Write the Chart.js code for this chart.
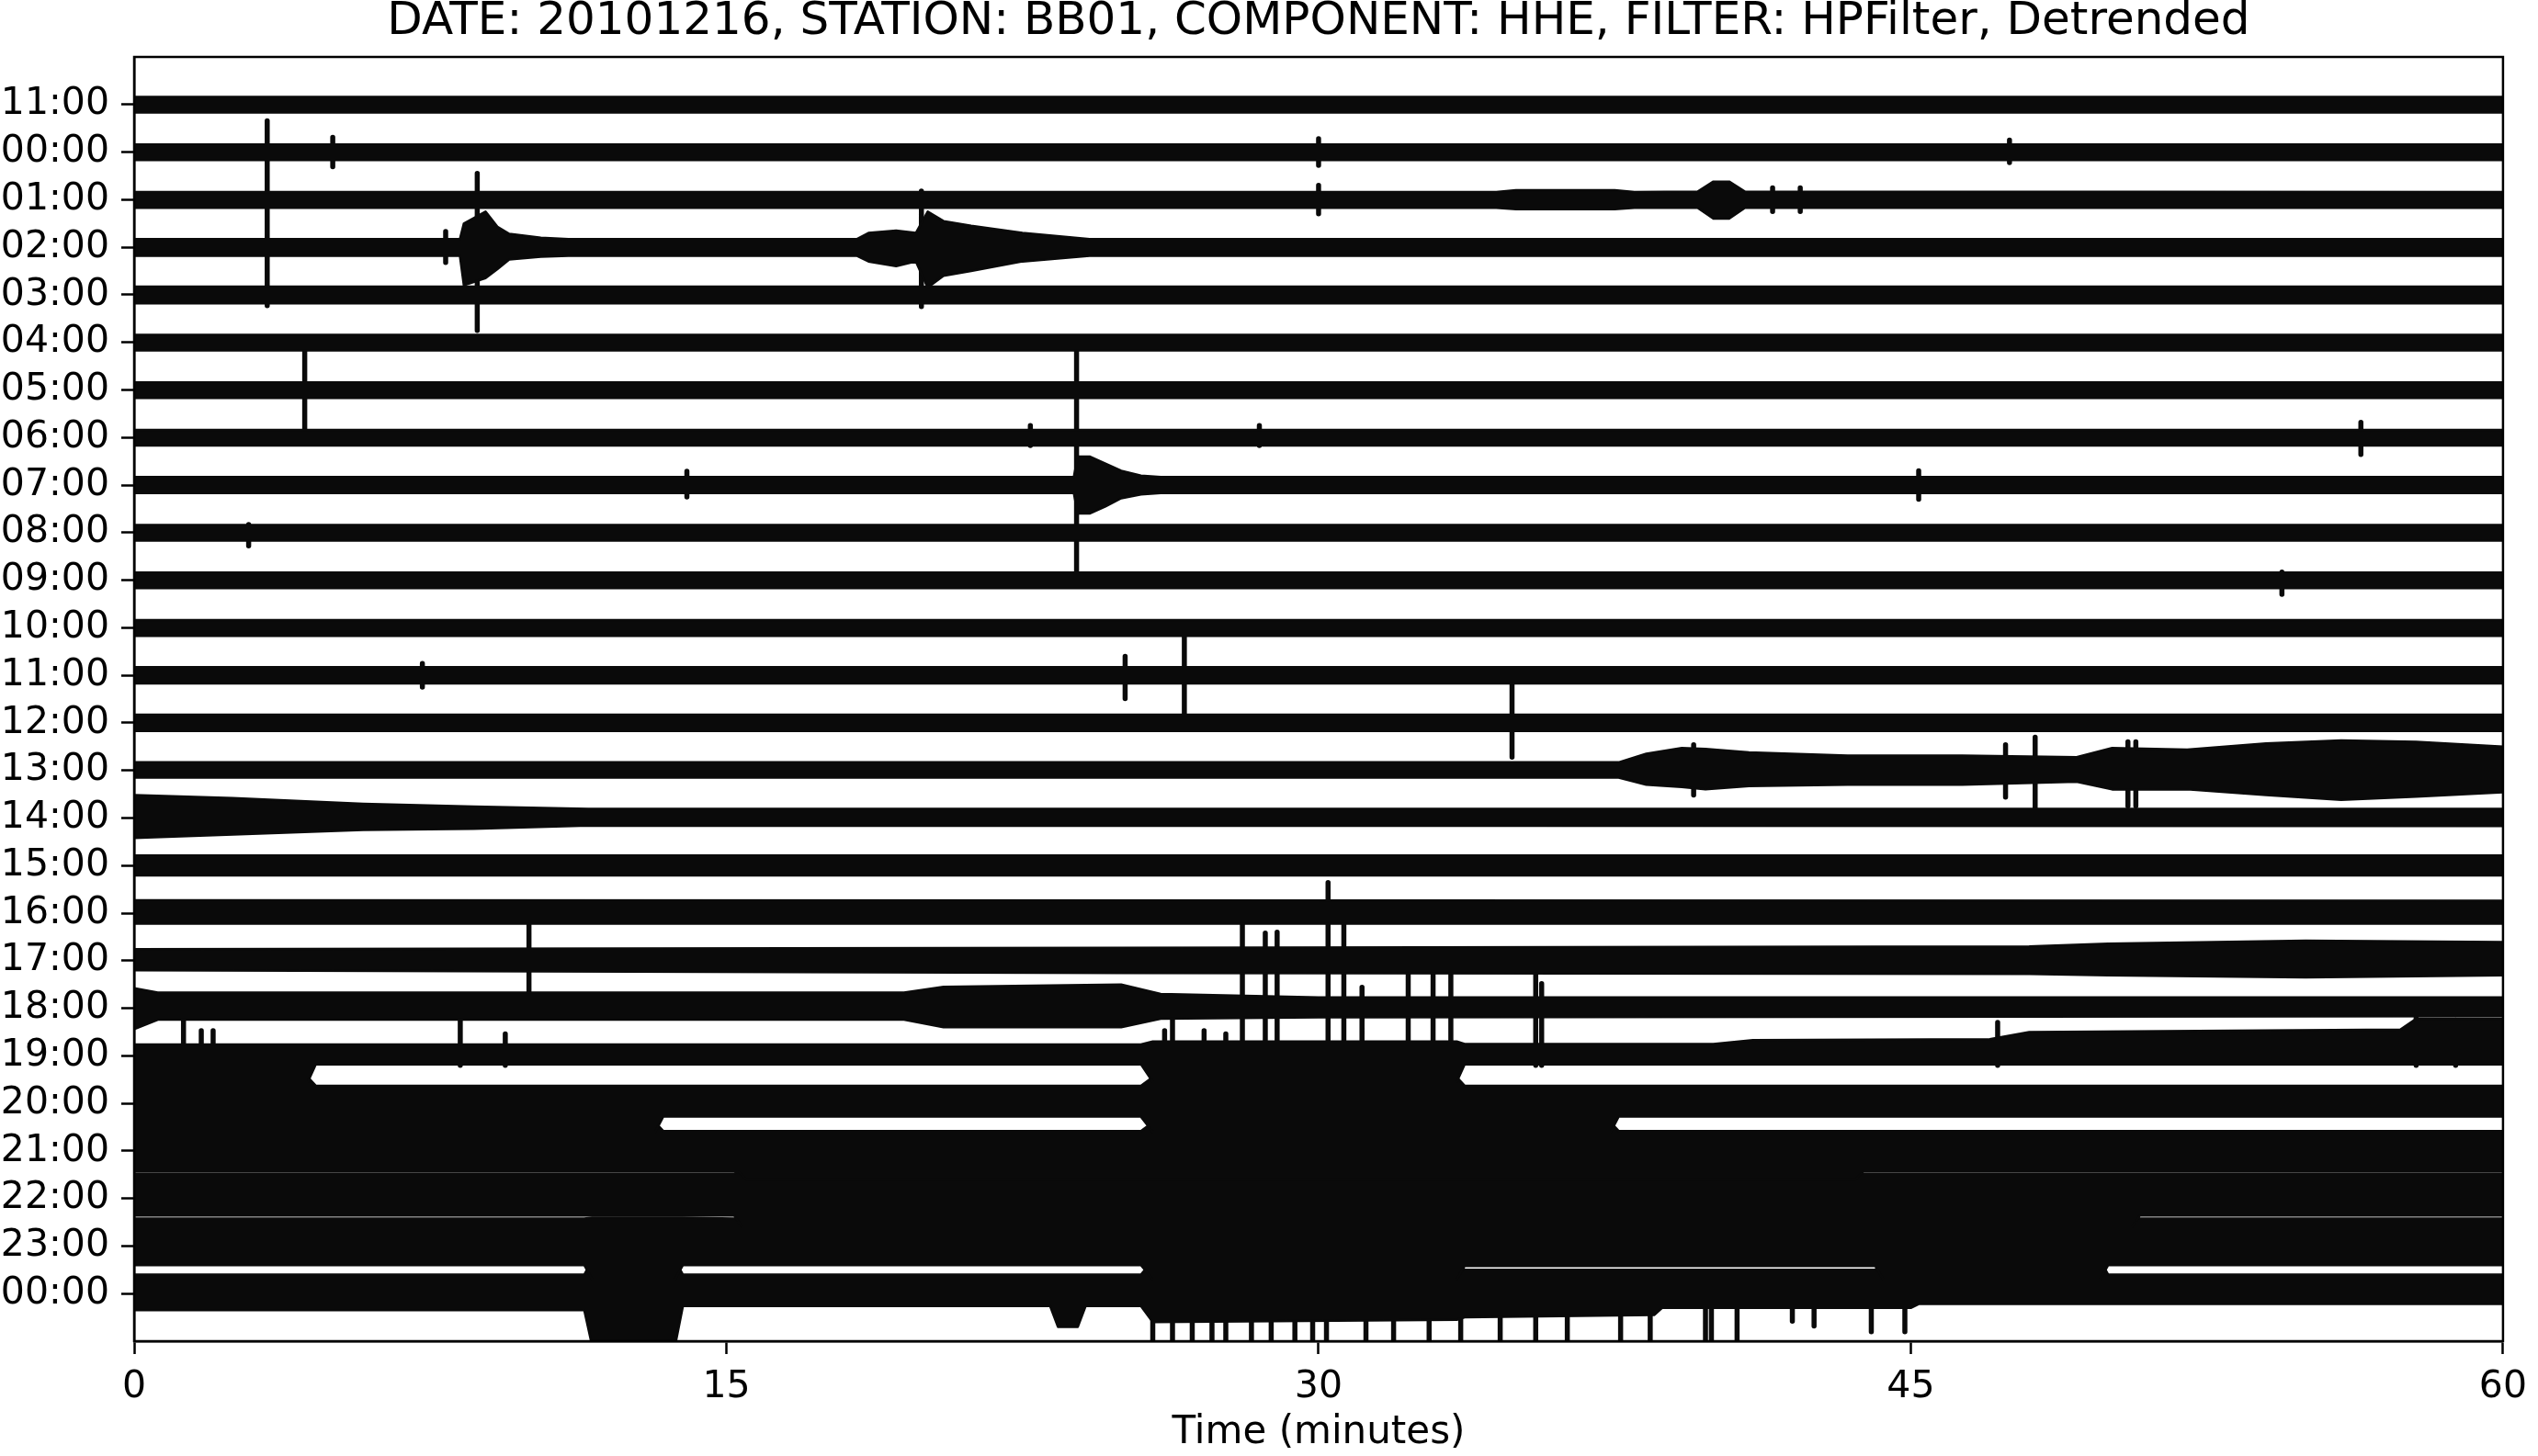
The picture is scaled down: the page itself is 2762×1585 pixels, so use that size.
<!DOCTYPE html>
<html>
<head>
<meta charset="utf-8">
<script src="https://cdn.jsdelivr.net/npm/chart.js@4.4.1/dist/chart.umd.min.js"></script>
<style>
  html, body { margin: 0; padding: 0; background: #ffffff; }
  #wrap { width: 2762px; height: 1585px; }
</style>
</head>
<body>
<div id="wrap"><canvas id="c" width="2762" height="1585"></canvas></div>
<script>
// ---------------- data ----------------
const chartTitle = "DATE: 20101216, STATION: BB01, COMPONENT: HHE, FILTER: HPFilter, Detrended";
const xAxisTitle = "Time (minutes)";
const xTicks = [0, 15, 30, 45, 60];
const rowLabels = ["11:00","00:00","01:00","02:00","03:00","04:00","05:00","06:00","07:00","08:00",
  "09:00","10:00","11:00","12:00","13:00","14:00","15:00","16:00","17:00","18:00",
  "19:00","20:00","21:00","22:00","23:00","00:00"];

// envelope of each trace: [minute, amplitude above, amplitude below] (row spacing = 1)
const envelopes = [
  [[0,.16,.17],[60,.16,.17]],
  [[0,.16,.17],[60,.16,.17]],
  [[0,.16,.17],[34.5,.16,.17],[35,.2,.2],[37.5,.2,.2],[38,.16,.17],[39.6,.17,.17],[40,.38,.4],[40.4,.38,.4],[40.8,.17,.17],[60,.16,.17]],
  [[0,.17,.18],[8.25,.17,.18],[8.35,.5,.8],[8.9,.75,.65],[9.2,.43,.46],[9.5,.28,.26],[10.3,.2,.2],[11,.17,.18],[18.3,.17,.18],[18.6,.3,.3],[19.3,.35,.4],[19.8,.3,.3],[20.1,.75,.85],[20.5,.55,.6],[21.2,.45,.5],[22.5,.3,.3],[24.2,.17,.18],[60,.17,.18]],
  [[0,.17,.18],[60,.17,.18]],
  [[0,.16,.17],[60,.16,.17]],
  [[0,.16,.17],[60,.16,.17]],
  [[0,.16,.17],[60,.16,.17]],
  [[0,.17,.17],[23.8,.17,.17],[23.9,.6,.6],[24.2,.6,.6],[24.6,.45,.45],[25,.3,.28],[25.5,.2,.2],[26,.17,.17],[60,.17,.17]],
  [[0,.16,.17],[60,.16,.17]],
  [[0,.16,.17],[60,.16,.17]],
  [[0,.16,.17],[60,.16,.17]],
  [[0,.17,.17],[60,.17,.17]],
  [[0,.17,.17],[60,.17,.17]],
  [[0,.17,.15],[37.6,.17,.15],[38.3,.35,.3],[39.2,.47,.35],[39.8,.45,.4],[40.9,.38,.33],[43.4,.31,.3],[46.3,.31,.3],[49.2,.28,.24],[50.1,.47,.4],[52,.44,.4],[54,.57,.52],[55.9,.63,.62],[57.8,.6,.55],[60,.5,.46]],
  [[0,.48,.42],[2.5,.42,.35],[5.8,.3,.25],[8.6,.24,.23],[11.5,.19,.16],[60,.19,.17]],
  [[0,.21,.21],[60,.21,.21]],
  [[0,.27,.22],[60,.26,.22]],
  [[0,.24,.2],[25,.27,.26],[48,.3,.28],[50,.36,.31],[55,.42,.35],[60,.39,.31]],
  [[0,.42,.44],[0.6,.33,.24],[19.5,.33,.24],[20.5,.45,.4],[25,.5,.4],[26,.3,.22],[30,.23,.19],[60,.23,.17]],
  [[0,.24,.55],[4.4,.24,.55],[4.6,.24,.18],[25.5,.24,.18],[25.8,.3,.55],[33.5,.3,.55],[33.7,.25,.18],[40,.25,.18],[41,.33,.18],[47,.35,.18],[48,.5,.18],[57.4,.55,.18],[57.8,.78,.18],[60,.78,.18]],
  [[0,.55,.6],[4.4,.55,.6],[4.6,.37,.6],[13.2,.37,.6],[13.4,.37,.28],[25.5,.37,.28],[25.8,.55,.6],[33.5,.55,.6],[33.7,.37,.6],[37.4,.37,.6],[37.6,.37,.28],[60,.37,.28]],
  [[0,.6,.43],[13.2,.6,.43],[13.4,.42,.43],[15.3,.42,.43],[15.5,.42,.6],[25.5,.42,.6],[25.8,.6,.6],[37.4,.6,.6],[37.6,.42,.6],[43.6,.42,.6],[43.8,.42,.43],[60,.42,.43]],
  [[0,.52,.36],[15.2,.52,.36],[15.4,.6,.6],[43.6,.6,.6],[43.8,.52,.6],[50.6,.52,.6],[50.8,.52,.36],[60,.52,.36]],
  [[0,.58,.4],[11.4,.58,.4],[11.6,.6,.7],[13.7,.6,.7],[13.9,.6,.4],[15.2,.58,.4],[15.4,.65,.4],[25.5,.65,.4],[25.8,.65,.7],[33.5,.65,.7],[33.7,.65,.42],[44.1,.65,.42],[44.3,.65,.7],[49.8,.65,.7],[50,.65,.4],[50.6,.65,.4],[50.8,.58,.4],[60,.58,.4]],
  [[0,.4,.35],[11.4,.4,.35],[11.6,.7,1.1],[13.7,.7,1.1],[13.9,.4,.26],[23.2,.4,.26],[23.4,.4,.7],[23.9,.4,.7],[24.1,.4,.26],[25.5,.4,.26],[25.8,.7,.6],[33.5,.7,.55],[33.7,.5,.5],[38.5,.5,.45],[38.7,.5,.3],[44.1,.5,.3],[44.3,.7,.3],[45,.7,.3],[45.2,.7,.22],[49.8,.7,.22],[50,.4,.22],[60,.4,.22]]
];

// isolated spikes: [row, minute, amplitude above, amplitude below]
const spikes = [
  [1,5.03,.31,.31],[1,30.0,.28,.28],[1,47.5,.25,.22],
  [2,3.37,1.66,2.23],[2,30.0,.3,.3],[2,41.5,.25,.25],[2,42.2,.25,.25],
  [3,7.89,.33,.32],[3,8.69,1.55,1.75],[3,19.94,1.18,1.25],
  [6,4.32,.98,.82],
  [7,56.4,.32,.36],[7,22.7,.25,.17],[7,28.5,.25,.17],
  [8,23.87,2.84,1.83],[8,14.0,.29,.25],[8,45.2,.3,.3],
  [9,2.9,.17,.28],[10,54.4,.17,.3],
  [12,25.1,.4,.49],[12,26.6,.88,.85],[12,7.3,.25,.25],
  [13,34.9,.82,.72],
  [14,39.5,.54,.52],[14,47.4,.54,.56],[14,48.15,.7,.81],[14,50.5,.6,.75],[14,50.7,.6,.75],
  [18,10.0,.77,.8],
  [20,1.25,.78,.2],[20,1.7,.53,.2],[20,2.0,.53,.2],[20,8.26,.78,.2],[20,9.4,.46,.2],
  [20,26.1,.53,.2],[20,26.3,.78,.2],[20,27.1,.53,.2],[20,27.65,.46,.2],
  [20,28.07,2.78,.2],[20,28.65,2.58,.2],[20,28.95,2.6,.2],[20,30.24,3.64,.2],[20,30.64,2.85,.2],
  [20,31.1,1.44,.2],[20,32.27,1.81,.2],[20,32.9,1.81,.2],[20,33.35,1.72,.2],[20,35.5,1.79,.2],
  [20,35.65,1.52,.2],[20,47.2,.7,.2],[20,57.8,.8,.2],[20,58.8,.75,.2],
  [25,25.8,.3,1.1],[25,26.3,.3,1.1],[25,26.8,.3,1.1],[25,27.3,.3,1.1],[25,27.65,.3,1.1],
  [25,28.3,.3,1.1],[25,28.8,.3,1.1],[25,29.4,.3,1.1],[25,29.85,.3,1.1],[25,30.2,.3,1.1],
  [25,31.2,.3,1.1],[25,31.9,.3,1.1],[25,32.8,.3,1.1],[25,33.6,.3,1.1],[25,34.6,.3,1.1],
  [25,35.5,.3,1.1],[25,36.3,.3,1.1],[25,37.65,.3,1.1],[25,38.4,.3,1.1],[25,39.8,.3,1.1],
  [25,39.95,.3,1.1],[25,40.6,.3,1.1],[25,42.0,.3,.58],[25,42.55,.3,.68],[25,44.0,.3,.8],[25,44.85,.3,.8]
];

// ---------------- build datasets ----------------
const INK = "#0a0a0a";
const datasets = [];
envelopes.forEach((env, r) => {
  const top = env.map(p => ({x: p[0], y: r - p[1]}));
  const bottom = env.map(p => ({x: p[0], y: r + p[2]})).reverse();
  const poly = top.concat(bottom, [top[0]]);
  datasets.push({
    data: poly,
    borderColor: INK, backgroundColor: INK, borderWidth: 2.5,
    pointRadius: 0, fill: "shape", tension: 0, clip: 0, borderJoinStyle: "round"
  });
});
const spikePts = [];
spikes.forEach(s => {
  spikePts.push({x: s[1], y: s[0] - s[2]});
  spikePts.push({x: s[1], y: s[0] + s[3]});
  spikePts.push({x: s[1], y: null});
});
datasets.push({
  data: spikePts, borderColor: INK, borderWidth: 5.5, pointRadius: 0,
  fill: false, spanGaps: false, clip: 0, borderCapStyle: "round"
});

const FONT = "DejaVu Sans";
const framePlugin = {
  id: "frame",
  afterDraw(chart) {
    const a = chart.chartArea, ctx = chart.ctx;
    ctx.save();
    ctx.strokeStyle = "#000000";
    ctx.lineWidth = 2.5;
    ctx.strokeRect(a.left, a.top, a.right - a.left, a.bottom - a.top);
    ctx.restore();
  }
};
const clipPlugin = {
  id: "clipArea",
  beforeDatasetsDraw(chart) {
    const a = chart.chartArea, ctx = chart.ctx;
    ctx.save();
    ctx.beginPath();
    ctx.rect(a.left, a.top, a.right - a.left, a.bottom - a.top);
    ctx.clip();
  },
  afterDatasetsDraw(chart) { chart.ctx.restore(); }
};

new Chart(document.getElementById("c"), {
  type: "line",
  data: { datasets },
  plugins: [clipPlugin, framePlugin],
  options: {
    responsive: false, animation: false, devicePixelRatio: 1,
    layout: { padding: { top: 0, right: 25, left: 0, bottom: 0 } },
    plugins: {
      legend: { display: false }, tooltip: { enabled: false },
      title: { display: true, fullSize: false, text: chartTitle, color: "#000",
               font: { family: FONT, size: 50, weight: "normal", lineHeight: 0.95 },
               padding: { top: 0, bottom: 14.5 } }
    },
    scales: {
      x: {
        type: "linear", min: 0, max: 60,
        afterBuildTicks: s => { s.ticks = xTicks.map(v => ({value: v})); },
        afterFit: s => { s.height = 125; },
        ticks: { color: "#000", font: { family: FONT, size: 41 }, padding: 12, maxRotation: 0 },
        grid: { drawOnChartArea: false, drawTicks: true, tickLength: 14, tickWidth: 2.5, tickColor: "#000" },
        border: { display: true, color: "#000", width: 2.5 },
        title: { display: true, text: xAxisTitle, color: "#000", font: { family: FONT, size: 42 }, padding: { top: 0, bottom: 0 } }
      },
      y: {
        type: "linear", reverse: true, min: -1, max: 26,
        afterBuildTicks: s => { s.ticks = rowLabels.map((_, i) => ({value: i})); },
        afterFit: s => { s.width = 146; },
        ticks: { color: "#000", font: { family: FONT, size: 41 }, padding: 13, autoSkip: false,
                 callback: v => rowLabels[v] },
        grid: { drawOnChartArea: false, drawTicks: true, tickLength: 14, tickWidth: 2.5, tickColor: "#000" },
        border: { display: true, color: "#000", width: 2.5 }
      }
    }
  }
});
</script>
</body>
</html>
